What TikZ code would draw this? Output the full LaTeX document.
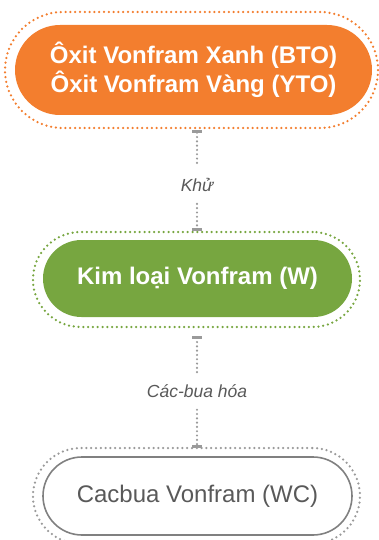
\documentclass[tikz,border=0pt]{standalone}
\usepackage{fontspec}
\setmainfont{Liberation Sans}
\usetikzlibrary{arrows.meta}
\definecolor{orangeF}{HTML}{F37E2E}
\definecolor{greenF}{HTML}{77A640}
\definecolor{grayline}{HTML}{808080}
\definecolor{graytext}{HTML}{595959}
\definecolor{graydot}{HTML}{9A9A9A}
\tikzset{
  pill/.style={rectangle, rounded corners=#1, inner sep=0pt, align=center},
  halo/.style={draw=#1, line width=2.5pt, line cap=round, dash pattern=on 0pt off 4.8pt},
  mainfont/.style={font=\fontsize{24}{29}\selectfont\bfseries, text=white},
  steplabel/.style={font=\fontsize{17.5}{20}\selectfont\itshape, text=graytext, inner ysep=12pt},
  conn/.style={draw=graydot, line width=2.4pt, line cap=round, dash pattern=on 0pt off 4.3pt},
  barstart/.style={{Bar[width=10pt,line width=3pt,sep=0pt]}-, shorten <=1.5pt},
  barend/.style={-{Bar[width=10pt,line width=3pt,sep=0pt]}, shorten >=1.5pt},
}
\begin{document}
\begin{tikzpicture}[x=1pt,y=-1pt]
\useasboundingbox (0,0) rectangle (379,540);
% top
\node[pill=58pt, halo=orangeF, minimum width=373pt, minimum height=116pt] (o1) at (191.5,70) {};
\node[pill=45pt, fill=orangeF, minimum width=357pt, minimum height=90pt, mainfont] (n1) at (193.5,70)
  {Ôxit Vonfram Xanh (BTO)\\Ôxit Vonfram Vàng (YTO)};
% middle
\node[pill=47.5pt, halo=greenF, minimum width=327pt, minimum height=95pt] (o2) at (196.5,279.5) {};
\node[pill=38.5pt, fill=greenF, minimum width=309pt, minimum height=77pt, mainfont] (n2) at (197.5,278.5)
  {Kim loại Vonfram (W)};
% bottom
\node[pill=48pt, halo=graydot, minimum width=327pt, minimum height=96pt] (o3) at (196.5,496) {};
\node[pill=39pt, draw=grayline, line width=1.6pt, minimum width=309pt, minimum height=78pt,
  font=\fontsize{24}{29}\selectfont, text=graytext] (n3) at (197.5,496) {Cacbua Vonfram (WC)};
% labels
\node[steplabel] (l1) at (197,185) {Khử};
\node[steplabel] (l2) at (197,391) {Các-bua hóa};
\coordinate (a1) at (197,129);
\coordinate (b1) at (197,232);
\coordinate (a2) at (197,334);
\coordinate (b2) at (197,449);
\draw[conn, barstart] (a1) -- (l1);
\draw[conn, barend] (l1) -- (b1);
\draw[conn, barstart] (a2) -- (l2);
\draw[conn, barend] (l2) -- (b2);
\end{tikzpicture}
\end{document}
